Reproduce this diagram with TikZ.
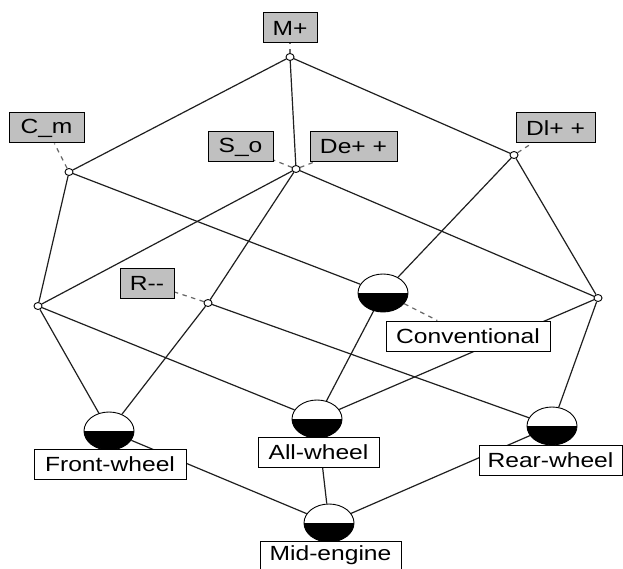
\documentclass[tikz,border=0pt]{standalone}
\usepackage{fontspec}
\setmainfont{Liberation Sans}
\usepackage{graphicx}
\usetikzlibrary{shapes.geometric,backgrounds}
\definecolor{attrgray}{RGB}{192,192,192}
% slightly widened label lettering
\newcommand{\wide}[1]{\scalebox{1.2}[1]{#1}}

\begin{document}
\begin{tikzpicture}[x=1pt,y=-1pt,
  every node/.style={font=\fontsize{20.5}{24}\selectfont},
  edge/.style={line width=1.2pt, draw=black!88},
  tie/.style={line width=1.2pt, draw=black!60, dash pattern=on 4.5pt off 4.5pt},
  pt/.style={ellipse, draw, fill=white, line width=0.9pt,
    minimum width=8pt, minimum height=7pt, inner sep=0pt},
  obj/.style={ellipse, draw, fill=white, line width=0.9pt,
    minimum width=50pt, minimum height=38pt, inner sep=0pt,
    path picture={\fill[black] (path picture bounding box.west)
      rectangle (path picture bounding box.south east);}},
  attr/.style={draw, fill=attrgray, line width=1pt,
    minimum height=30pt, inner sep=0pt},
  objlab/.style={draw, fill=white, line width=1pt,
    minimum height=30pt, inner sep=0pt},
]
\useasboundingbox (0,0) rectangle (623,569);

% lattice points
\node[pt]  (top)   at (290,57)  {};
\node[pt]  (cm)    at (69,172)  {};
\node[pt]  (so)    at (296,169) {};
\node[pt]  (dl)    at (514,155) {};
\node[pt]  (lft)   at (38,306)  {};
\node[pt]  (r)     at (208,303) {};
\node[obj] (conv)  at (383,293) {};
\node[pt]  (rgt)   at (598,298) {};
\node[obj] (front) at (109,431) {};
\node[obj] (all)   at (317,419) {};
\node[obj] (rear)  at (552,426) {};
\node[obj] (mid)   at (329,523) {};

% attribute labels
\node[attr, minimum width=54pt] (lM)  at (290,28)    {\wide{M+}};
\node[attr, minimum width=75pt] (lCm) at (46.5,128)  {\wide{C\_m}};
\node[attr, minimum width=65pt] (lSo) at (240.5,147) {\wide{S\_o}};
\node[attr, minimum width=87pt] (lDe) at (353.5,147) {\wide{De+ +}};
\node[attr, minimum width=79pt] (lDl) at (555.5,128) {\wide{Dl+ +}};
\node[attr, minimum width=54pt] (lR)  at (147,283)   {\wide{R-{}-}};

% object labels
\node[objlab, minimum width=164pt] (lConv)  at (468,336)   {\wide{Conventional}};
\node[objlab, minimum width=152pt] (lFront) at (110,464)   {\wide{Front-wheel}};
\node[objlab, minimum width=121pt] (lAll)   at (318.5,452) {\wide{All-wheel}};
\node[objlab, minimum width=143pt] (lRear)  at (550.5,460) {\wide{Rear-wheel}};
\node[objlab, minimum width=141pt, minimum height=28pt] (lMid) at (330.5,555) {\wide{Mid-engine}};

\begin{pgfonlayer}{background}
  % label ties
  \draw[tie] (top) -- (lM);
  \draw[tie] (cm) -- (lCm);
  \draw[tie] (so) -- (lSo);
  \draw[tie] (so) -- (lDe);
  \draw[tie] (dl) -- (lDl);
  \draw[tie] (r) -- (lR);
  \draw[tie] (conv) -- (lConv);
  \draw[tie] (front) -- (lFront);
  \draw[tie] (all) -- (lAll);
  \draw[tie] (rear) -- (lRear);
  \draw[tie] (mid) -- (lMid);
  % lattice edges
  \draw[edge] (top) -- (cm);
  \draw[edge] (top) -- (so);
  \draw[edge] (top) -- (dl);
  \draw[edge] (cm) -- (lft);
  \draw[edge] (cm) -- (conv);
  \draw[edge] (so) -- (lft);
  \draw[edge] (so) -- (r);
  \draw[edge] (so) -- (rgt);
  \draw[edge] (dl) -- (conv);
  \draw[edge] (dl) -- (rgt);
  \draw[edge] (lft) -- (front);
  \draw[edge] (lft) -- (all);
  \draw[edge] (r) -- (front);
  \draw[edge] (r) -- (rear);
  \draw[edge] (conv) -- (all);
  \draw[edge] (rgt) -- (all);
  \draw[edge] (rgt) -- (rear);
  \draw[edge] (front) -- (mid);
  \draw[edge] (all) -- (mid);
  \draw[edge] (rear) -- (mid);
\end{pgfonlayer}
\end{tikzpicture}
\end{document}
